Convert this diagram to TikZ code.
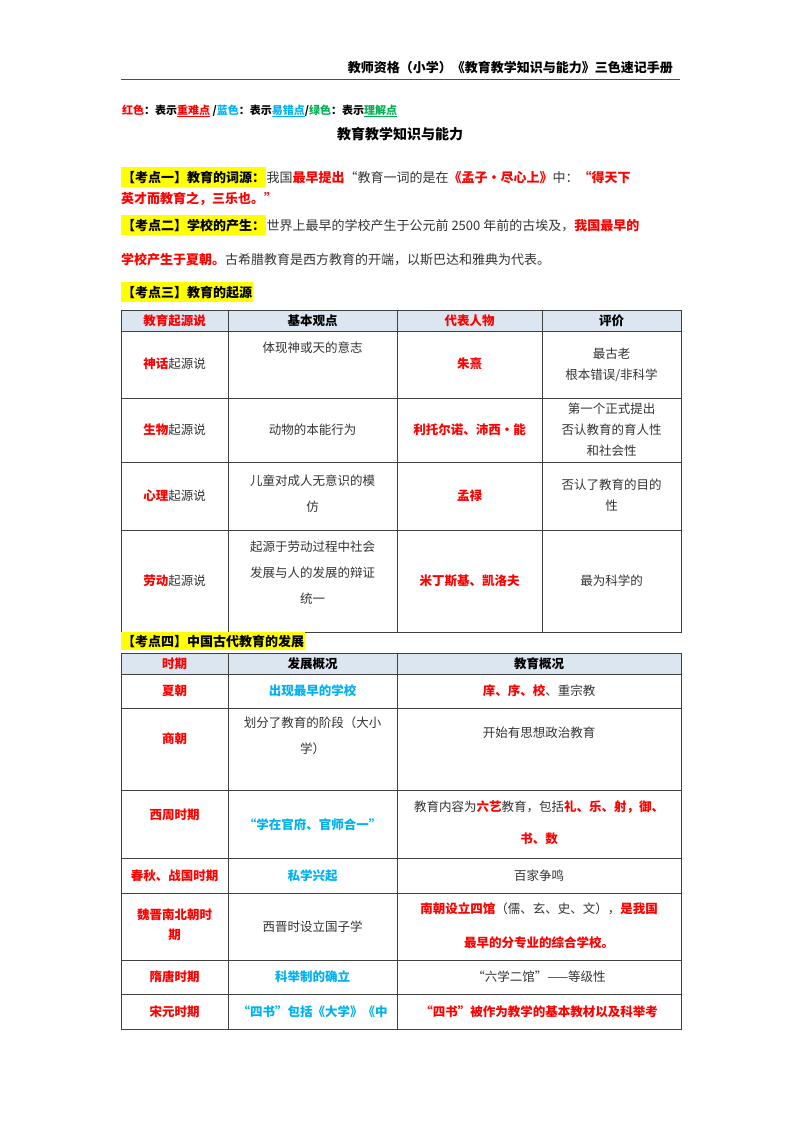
\documentclass[tikz,border=0pt]{standalone}
\usepackage{fontspec}
\setmainfont{Noto Sans CJK SC}
\definecolor{rd}{HTML}{FF0000}
\definecolor{bl}{HTML}{00B0F0}
\definecolor{gr}{HTML}{00B050}
\definecolor{hl}{HTML}{FFFF00}
\definecolor{hd}{HTML}{DCE6F1}
\definecolor{tx}{HTML}{333333}
\newcommand{\Rd}[1]{\textcolor{rd}{\bfseries #1}}
\newcommand{\Bl}[1]{\textcolor{bl}{\bfseries #1}}
\begin{document}
\begin{tikzpicture}[x=1pt,y=-1pt,
  txt/.style={anchor=base west,inner sep=0pt,font=\fontsize{13}{15}\selectfont,text=tx},
  hlbox/.style={anchor=base west,fill=hl,inner xsep=1pt,inner ysep=4pt,font=\fontsize{13}{15}\selectfont\bfseries},
  cell/.style={align=center,inner sep=0pt,font=\fontsize{12.5}{26}\selectfont,text=tx},
  grid/.style={draw=black!75,line width=0.8pt}]
\useasboundingbox (0,0) rectangle (800,1132);
% header
\node[anchor=base east,inner sep=0pt,font=\fontsize{13}{15}\selectfont\bfseries] (hdr) at (673,72) {教师资格（小学）《教育教学知识与能力》三色速记手册};
\draw[line width=0.8pt,black!70] (121,79) coordinate (h1) -- (680,79) coordinate (h2);
\node[anchor=base west,inner sep=0pt,font=\fontsize{11}{13}\selectfont\bfseries] (legend) at (122,114)
 {\textcolor{rd}{红色}：表示\textcolor{rd}{\underline{重难点}} /\textcolor{bl}{蓝色}：表示\textcolor{bl}{\underline{易错点}}/\textcolor{gr}{绿色}：表示\textcolor{gr}{\underline{理解点}}};
\node[anchor=base,inner sep=0pt,font=\fontsize{14}{16}\selectfont\bfseries] (title) at (400,139) {教育教学知识与能力};
% kaodian 1
\node[hlbox] (k1) at (121,182) {【考点一】教育的词源：};
\node[txt] (k1t) at (k1.base east) {我国\Rd{最早提出}“教育一词的是在\Rd{《孟子·尽心上》}中：\Rd{“得天下}};
\node[txt] (k1u) at (121,203) {\Rd{英才而教育之，三乐也。”}};
\node[hlbox] (k2) at (121,230) {【考点二】学校的产生：};
\node[txt] (k2t) at (k2.base east) {世界上最早的学校产生于公元前 2500 年前的古埃及，\Rd{我国最早的}};
\node[txt] (k2u) at (121,264) {\Rd{学校产生于夏朝。}古希腊教育是西方教育的开端，以斯巴达和雅典为代表。};
\node[hlbox] (k3) at (121,297) {【考点三】教育的起源};
% table 1
\fill[hd] (121,310) rectangle (681,331);
\draw[grid] (121,310) rectangle (681,632);
\foreach \yy in {331,398,462,530} \draw[grid] (121,\yy) -- (681,\yy);
\foreach \xx in {228,397,542} \draw[grid] (\xx,310) -- (\xx,632);
\node[cell] (a0) at (174.5,320.5) {\Rd{教育起源说}};
\node[cell] (b0) at (312.5,320.5) {\bfseries\textcolor{black}{基本观点}};
\node[cell] (c0) at (469.5,320.5) {\Rd{代表人物}};
\node[cell] (d0) at (611.5,320.5) {\bfseries\textcolor{black}{评价}};
\node[cell] (a1) at (174.5,364) {\Rd{神话}起源说};
\node[cell] (b1) at (312.5,348) {体现神或天的意志};
\node[cell] (c1) at (469.5,364) {\Rd{朱熹}};
\node[cell,font=\fontsize{12.5}{21}\selectfont] (d1) at (611.5,365) {最古老\\根本错误/非科学};
\node[cell] (a2) at (174.5,430) {\Rd{生物}起源说};
\node[cell] (b2) at (312.5,430) {动物的本能行为};
\node[cell] (c2) at (469.5,430) {\Rd{利托尔诺、沛西·能}};
\node[cell,font=\fontsize{12.5}{21}\selectfont] (d2) at (611.5,430) {第一个正式提出\\否认教育的育人性\\和社会性};
\node[cell] (a3) at (174.5,496) {\Rd{心理}起源说};
\node[cell] (b3) at (312.5,494) {儿童对成人无意识的模\\仿};
\node[cell] (c3) at (469.5,496) {\Rd{孟禄}};
\node[cell,font=\fontsize{12.5}{21}\selectfont] (d3) at (611.5,495) {否认了教育的目的\\性};
\node[cell] (a4) at (174.5,581) {\Rd{劳动}起源说};
\node[cell] (b4) at (312.5,573) {起源于劳动过程中社会\\发展与人的发展的辩证\\统一};
\node[cell] (c4) at (469.5,581) {\Rd{米丁斯基、凯洛夫}};
\node[cell] (d4) at (611.5,581) {最为科学的};
% kaodian 4
\node[hlbox,inner ysep=2.5pt] (k4) at (121,646) {【考点四】中国古代教育的发展};
\fill[hd] (121,653) rectangle (681,674);
\draw[grid] (121,653) rectangle (681,1029);
\foreach \yy in {674,708,790,858,893,960,994} \draw[grid] (121,\yy) -- (681,\yy);
\foreach \xx in {228,397} \draw[grid] (\xx,653) -- (\xx,1029);
\node[cell] (e0) at (174.5,663.5) {\Rd{时期}};
\node[cell] (f0) at (312.5,663.5) {\bfseries\textcolor{black}{发展概况}};
\node[cell] (g0) at (539,663.5) {\bfseries\textcolor{black}{教育概况}};
\node[cell] (e1) at (174.5,691) {\Rd{夏朝}};
\node[cell] (f1) at (312.5,691) {\Bl{出现最早的学校}};
\node[cell] (g1) at (539,691) {\Rd{庠、序、校}、重宗教};
\node[cell] (e2) at (174.5,739) {\Rd{商朝}};
\node[cell] (f2) at (312.5,736) {划分了教育的阶段（大小\\学）};
\node[cell] (g2) at (539,733) {开始有思想政治教育};
\node[cell] (e3) at (174.5,815) {\Rd{西周时期}};
\node[cell] (f3) at (312.5,825) {\Bl{“学在官府、官师合一”}};
\node[cell,font=\fontsize{12.5}{32}\selectfont] (g3) at (539,823) {教育内容为\Rd{六艺}教育，包括\Rd{礼、乐、射，御、}\\\Rd{书、数}};
\node[cell] (e4) at (174.5,876) {\Rd{春秋、战国时期}};
\node[cell] (f4) at (312.5,876) {\Bl{私学兴起}};
\node[cell] (g4) at (539,876) {百家争鸣};
\node[cell,font=\fontsize{12.5}{20}\selectfont] (e5) at (174.5,925) {\Rd{魏晋南北朝时}\\\Rd{期}};
\node[cell] (f5) at (312.5,927) {西晋时设立国子学};
\node[cell,font=\fontsize{12.5}{34}\selectfont] (g5) at (539,926) {\Rd{南朝设立四馆}（儒、玄、史、文），\Rd{是我国}\\\Rd{最早的分专业的综合学校。}};
\node[cell] (e6) at (174.5,977) {\Rd{隋唐时期}};
\node[cell] (f6) at (312.5,977) {\Bl{科举制的确立}};
\node[cell] (g6) at (539,977) {“六学二馆”——等级性};
\node[cell] (e7) at (174.5,1012) {\Rd{宋元时期}};
\node[cell] (f7) at (312.5,1012) {\Bl{“四书”包括《大学》《中}};
\node[cell] (g7) at (539,1012) {\Rd{“四书”被作为教学的基本教材以及科举考}};
\end{tikzpicture}
\end{document}
